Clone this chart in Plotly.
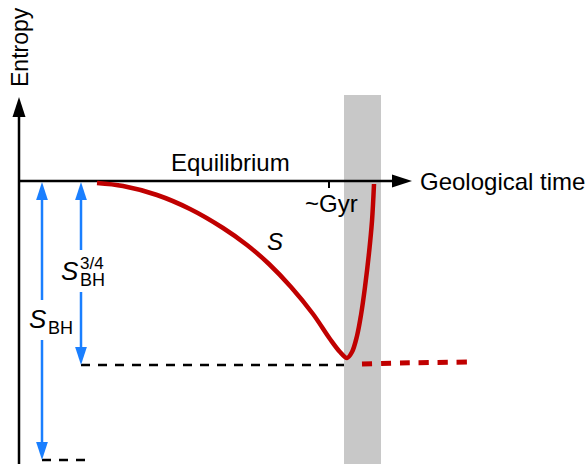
import plotly.graph_objects as go

# schematic units: time t (0 at the entropy axis), entropy S (0 = equilibrium)
curve_t = [78, 104, 138, 171, 204, 228, 250, 272, 294, 311, 321, 328, 333, 338, 342, 346, 350, 353, 355]
curve_S = [-2, -5, -14, -28, -47, -64, -83, -106, -133, -158, -171, -177, -171, -155, -134, -106, -72, -40, -3]

future_t = [343, 381, 449]
future_S = [-183, -182, -181]

S_bh34 = -184      # level S_BH^3/4 below equilibrium
S_bh = -279        # level S_BH below equilibrium
t_gyr = 310        # ~Gyr tick
band_t = [325, 362]  # shaded interval
band_top = 86

x_axis_end = 393
y_axis_end = 84

BLACK = '#000000'
BLUE = '#1a7fff'
RED = '#c00000'
FONT = 'Arial, Liberation Sans, sans-serif'

fig = go.Figure()

# grey band
fig.add_shape(type='rect', x0=band_t[0], x1=band_t[1], y0=-300, y1=band_top,
              fillcolor='#c8c8c8', line_width=0, layer='below')

# axes
fig.add_trace(go.Scatter(x=[0, 0], y=[-300, y_axis_end - 12], mode='lines',
                         line=dict(color=BLACK, width=2.5), hoverinfo='skip'))
fig.add_trace(go.Scatter(x=[0, x_axis_end - 12], y=[0, 0], mode='lines',
                         line=dict(color=BLACK, width=2.5), hoverinfo='skip'))
fig.add_trace(go.Scatter(x=[0, x_axis_end], y=[y_axis_end, 0], mode='markers',
                         marker=dict(symbol='arrow', size=21, angle=[0, 90], color=BLACK,
                                     line_width=0), hoverinfo='skip'))
# ~Gyr tick
fig.add_trace(go.Scatter(x=[t_gyr, t_gyr], y=[0, -7], mode='lines',
                         line=dict(color=BLACK, width=2), hoverinfo='skip'))

# dashed reference levels
fig.add_trace(go.Scatter(x=[62, band_t[0]], y=[S_bh34, S_bh34], mode='lines',
                         line=dict(color=BLACK, width=2.7, dash='9px,8px'), hoverinfo='skip'))
fig.add_trace(go.Scatter(x=[23, 70], y=[S_bh, S_bh], mode='lines',
                         line=dict(color=BLACK, width=2.7, dash='9px,8px'), hoverinfo='skip'))

# blue double arrows (broken where the labels sit)
fig.add_trace(go.Scatter(x=[23, 23, None, 23, 23], y=[-12, -119, None, -159, S_bh + 12],
                         mode='lines', line=dict(color=BLUE, width=2.5), hoverinfo='skip'))
fig.add_trace(go.Scatter(x=[62, 62, None, 62, 62], y=[-12, -69, None, -111, S_bh34 + 12],
                         mode='lines', line=dict(color=BLUE, width=2.5), hoverinfo='skip'))
fig.add_trace(go.Scatter(x=[23, 23, 62, 62], y=[-1, S_bh, -1, S_bh34], mode='markers',
                         marker=dict(symbol='arrow', size=19, angle=[0, 180, 0, 180], color=BLUE,
                                     line_width=0), hoverinfo='skip'))

# entropy curve
fig.add_trace(go.Scatter(x=curve_t, y=curve_S, mode='lines',
                         line=dict(color=RED, width=4.5, shape='spline', smoothing=1),
                         hoverinfo='skip'))
fig.add_trace(go.Scatter(x=future_t, y=future_S, mode='lines',
                         line=dict(color=RED, width=5, dash='10px,9px', shape='spline'),
                         hoverinfo='skip'))

ann = [
    dict(x=1, y=y_axis_end + 50, text='Entropy', textangle=-90, font_size=23),
    dict(x=211, y=19, text='Equilibrium', font_size=24),
    dict(x=x_axis_end + 6, y=0, text='Geological time', xanchor='left', font_size=24),
    dict(x=312, y=-22, text='~Gyr', font_size=24),
    dict(x=256, y=-60, text='<i>S</i>', font_size=24),
    dict(x=51, y=-90, text='<i>S</i>', font_size=26),
    dict(x=59, y=-82, text='3/4', xanchor='left', font_size=17),
    dict(x=59, y=-99, text='BH', xanchor='left', font_size=18),
    dict(x=19, y=-138, text='<i>S</i>', font_size=26),
    dict(x=27, y=-147, text='BH', xanchor='left', font_size=18),
]
for a in ann:
    fs = a.pop('font_size')
    fig.add_annotation(showarrow=False, font=dict(family=FONT, size=fs, color=BLACK), **a)

fig.update_layout(
    width=587, height=464,
    margin=dict(l=0, r=0, t=0, b=0),
    paper_bgcolor='white', plot_bgcolor='white',
    showlegend=False,
    xaxis=dict(range=[-19, 568], visible=False, fixedrange=True),
    yaxis=dict(range=[-283, 181], visible=False, fixedrange=True),
)

fig.write_html("out.html", config={'displayModeBar': False},
               post_script="document.body.style.margin='0';")
